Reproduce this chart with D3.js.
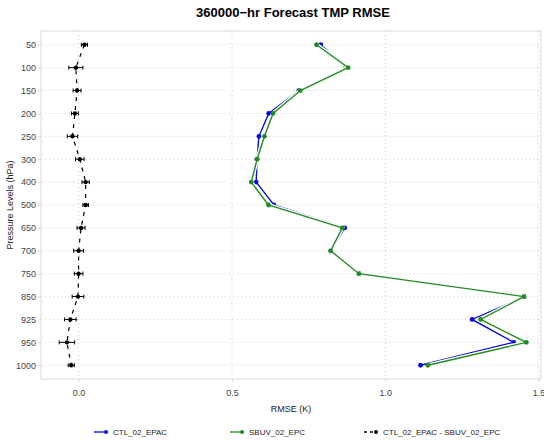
<!DOCTYPE html>
<html>
<head>
<meta charset="utf-8">
<script src="https://cdn.jsdelivr.net/npm/d3@7"></script>
<style>
  body { margin: 0; background: #fff; }
  svg { font-family: "Liberation Sans", Arial, sans-serif; }
</style>
</head>
<body>
<svg></svg>
<script>
// Pressure levels (categories, top to bottom)
const levels = ["50", "100", "150", "200", "250", "300", "400", "500", "650", "700", "750", "850", "925", "950", "1000"];

// RMSE per level for each experiment
const ctlValues  = [0.790, 0.871, 0.718, 0.620, 0.588, 0.582, 0.579, 0.637, 0.868, 0.822, 0.914, 1.454, 1.283, 1.419, 1.115];
const sbuvValues = [0.776, 0.879, 0.723, 0.634, 0.606, 0.582, 0.563, 0.619, 0.860, 0.822, 0.914, 1.452, 1.311, 1.460, 1.139];

// Difference (CTL - SBUV) and its error bar half-width
const diffValues = [0.019, -0.009, -0.005, -0.012, -0.020, 0.004, 0.023, 0.023, 0.008, 0.000, 0.000, -0.002, -0.027, -0.038, -0.024];
const diffErrors = [0.010, 0.023, 0.013, 0.011, 0.017, 0.014, 0.012, 0.009, 0.013, 0.016, 0.014, 0.019, 0.019, 0.025, 0.010];

const xTicks = [0, 0.5, 1.0, 1.5];

const seriesNames = ["CTL_02_EPAC", "SBUV_02_EPC", "CTL_02_EPAC - SBUV_02_EPC"];
const blue = "#0a0adc";
const green = "#228b22";

const W = 544, H = 441;
const plot = { left: 41, right: 541, top: 31, bottom: 379 };

const svg = d3.select("svg").attr("width", W).attr("height", H);

// Scales
const x = d3.scaleLinear()
  .domain([-0.1226, 1.5078])
  .range([plot.left, plot.right]);

const y = d3.scalePoint()
  .domain(levels)
  .range([plot.top, plot.bottom])
  .padding(0.6);

// Grid lines (dotted)
const grid = svg.append("g");
grid.selectAll(".hgrid")
  .data(levels)
  .join("line")
  .attr("x1", plot.left).attr("x2", plot.right)
  .attr("y1", d => y(d)).attr("y2", d => y(d))
  .attr("stroke", "#d0d0d0")
  .attr("stroke-width", 1)
  .attr("stroke-dasharray", "1,3");
grid.selectAll(".vgrid")
  .data(xTicks)
  .join("line")
  .attr("x1", d => x(d)).attr("x2", d => x(d))
  .attr("y1", plot.top).attr("y2", plot.bottom)
  .attr("stroke", "#d0d0d0")
  .attr("stroke-width", 1)
  .attr("stroke-dasharray", "1,3");

// Panel border
svg.append("rect")
  .attr("x", plot.left).attr("y", plot.top)
  .attr("width", plot.right - plot.left)
  .attr("height", plot.bottom - plot.top)
  .attr("fill", "none")
  .attr("stroke", "#d9d9d9");

// Axes
const xAxis = svg.append("g")
  .attr("transform", `translate(0, ${plot.bottom})`)
  .call(d3.axisBottom(x).tickValues(xTicks).tickFormat(d3.format(".1f")).tickSize(3).tickPadding(8));
const yAxis = svg.append("g")
  .attr("transform", `translate(${plot.left}, 0)`)
  .call(d3.axisLeft(y).tickSize(3).tickPadding(2));
[xAxis, yAxis].forEach(a => {
  a.select(".domain").remove();
  a.selectAll(".tick line").attr("stroke", "#d9d9d9");
  a.selectAll(".tick text")
    .attr("fill", "#444")
    .style("font-size", "9px")
    .style("font-family", "Liberation Sans, Arial, sans-serif");
});

// Axis titles
svg.append("text")
  .attr("x", (plot.left + plot.right) / 2)
  .attr("y", 412)
  .attr("text-anchor", "middle")
  .attr("fill", "#222")
  .style("font-size", "9px")
  .text("RMSE (K)");

svg.append("text")
  .attr("transform", "rotate(-90)")
  .attr("x", -(plot.top + plot.bottom) / 2)
  .attr("y", 13)
  .attr("text-anchor", "middle")
  .attr("fill", "#222")
  .style("font-size", "9px")
  .text("Pressure Levels (hPa)");

// Title
svg.append("text")
  .attr("x", 293)
  .attr("y", 17)
  .attr("text-anchor", "middle")
  .attr("fill", "#000")
  .style("font-size", "13px")
  .style("font-weight", "bold")
  .text("360000\u2212hr Forecast TMP RMSE");

// RMSE lines with a white halo
function drawSeries(values, color) {
  const pts = levels.map((l, i) => ({ level: l, value: values[i] }));
  const line = d3.line().x(d => x(d.value)).y(d => y(d.level));
  svg.append("path")
    .attr("d", line(pts))
    .attr("fill", "none")
    .attr("stroke", "#fff")
    .attr("stroke-width", 4);
  svg.append("path")
    .attr("d", line(pts))
    .attr("fill", "none")
    .attr("stroke", color)
    .attr("stroke-width", 1.4);
  svg.append("g").selectAll("circle")
    .data(pts)
    .join("circle")
    .attr("cx", d => x(d.value))
    .attr("cy", d => y(d.level))
    .attr("r", 2.4)
    .attr("fill", color);
}
drawSeries(ctlValues, blue);
drawSeries(sbuvValues, green);

// Difference with error bars
const diffPts = levels.map((l, i) => ({ level: l, value: diffValues[i], err: diffErrors[i] }));
svg.append("path")
  .attr("d", d3.line().x(d => x(d.value)).y(d => y(d.level))(diffPts))
  .attr("fill", "none")
  .attr("stroke", "#000")
  .attr("stroke-width", 1.2)
  .attr("stroke-dasharray", "4,5");
const eb = svg.append("g").selectAll("g")
  .data(diffPts)
  .join("g");
eb.append("line")
  .attr("x1", d => x(d.value - d.err)).attr("x2", d => x(d.value + d.err))
  .attr("y1", d => y(d.level)).attr("y2", d => y(d.level))
  .attr("stroke", "#000").attr("stroke-width", 1);
eb.selectAll(".cap")
  .data(d => [{ v: d.value - d.err, l: d.level }, { v: d.value + d.err, l: d.level }])
  .join("line")
  .attr("x1", d => x(d.v)).attr("x2", d => x(d.v))
  .attr("y1", d => y(d.l) - 2).attr("y2", d => y(d.l) + 2)
  .attr("stroke", "#000").attr("stroke-width", 1);
eb.append("circle")
  .attr("cx", d => x(d.value))
  .attr("cy", d => y(d.level))
  .attr("r", 2.2)
  .attr("fill", "#000");

// Legend
const legendItems = [
  { name: seriesNames[0], color: blue, dash: null, x: 94 },
  { name: seriesNames[1], color: green, dash: null, x: 230 },
  { name: seriesNames[2], color: "#000", dash: "3,3", x: 364 }
];
const lg = svg.append("g").selectAll("g")
  .data(legendItems)
  .join("g")
  .attr("transform", d => `translate(${d.x}, 432)`);
lg.append("line")
  .attr("x1", 0).attr("x2", 12)
  .attr("y1", 0).attr("y2", 0)
  .attr("stroke", d => d.color)
  .attr("stroke-width", 1.3)
  .attr("stroke-dasharray", d => d.dash);
lg.append("circle")
  .attr("cx", 12).attr("cy", 0).attr("r", 2)
  .attr("fill", d => d.color);
lg.append("text")
  .attr("x", 19).attr("y", 3)
  .attr("fill", "#222")
  .style("font-size", "8px")
  .text(d => d.name);
</script>
</body>
</html>
